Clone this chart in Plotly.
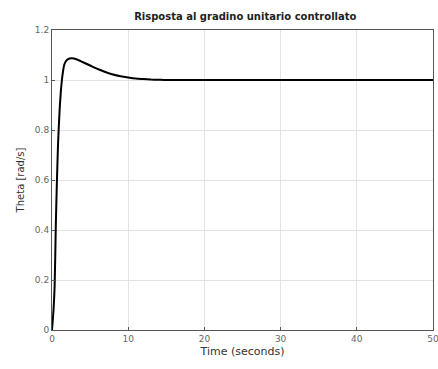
import plotly.graph_objects as go

t = [0, 0.2, 0.35, 0.5, 0.65, 0.8, 1.0, 1.15, 1.3, 1.45, 1.6, 1.8, 2.0, 2.3, 2.6, 3.2, 4, 5, 6, 7, 8, 9, 10, 11, 12, 13, 14, 15, 20, 25, 30, 35, 40, 45, 50]
y = [0, 0.08, 0.18, 0.42, 0.6, 0.75, 0.88, 0.95, 1.0, 1.035, 1.06, 1.074, 1.081, 1.086, 1.087, 1.083, 1.072, 1.058, 1.044, 1.032, 1.022, 1.015, 1.010, 1.006, 1.004, 1.002, 1.001, 1.0, 1.0, 1.0, 1.0, 1.0, 1.0, 1.0, 1.0]

xticks = [0, 10, 20, 30, 40, 50]
yticks = [0, 0.2, 0.4, 0.6, 0.8, 1, 1.2]

fig = go.Figure()
fig.add_trace(go.Scatter(x=t, y=y, mode="lines", line=dict(color="black", width=2, shape="spline", smoothing=0.6)))

axis_common = dict(showline=True, linecolor="#555", linewidth=1, mirror=True, ticks="inside", ticklen=3,
                   tickcolor="#555", showgrid=True, gridcolor="#e3e3e3", gridwidth=1, zeroline=False,
                   ticklabeloverflow="allow", automargin=False,
                   tickfont=dict(family="DejaVu Sans", size=9, color="#666"))
fig.update_xaxes(range=[0, 50], tickvals=xticks, ticktext=[str(v) for v in xticks],
                 title=dict(text="Time (seconds)", font=dict(family="DejaVu Sans", size=11, color="#333"), standoff=4),
                 **axis_common)
fig.update_yaxes(range=[0, 1.2], tickvals=yticks, ticktext=[str(v) for v in yticks],
                 title=dict(text="Theta [rad/s]", font=dict(family="DejaVu Sans", size=10, color="#333"), standoff=8),
                 **axis_common)
fig.update_layout(width=438, height=369, margin=dict(l=52, r=5, t=30, b=39),
                  paper_bgcolor="white", plot_bgcolor="white", showlegend=False,
                  title=dict(text="<b>Risposta al gradino unitario controllato</b>", x=0.56, xanchor="center", y=0.965,
                             font=dict(family="DejaVu Sans", size=10, color="#222")))
fig.write_html("out.html")
